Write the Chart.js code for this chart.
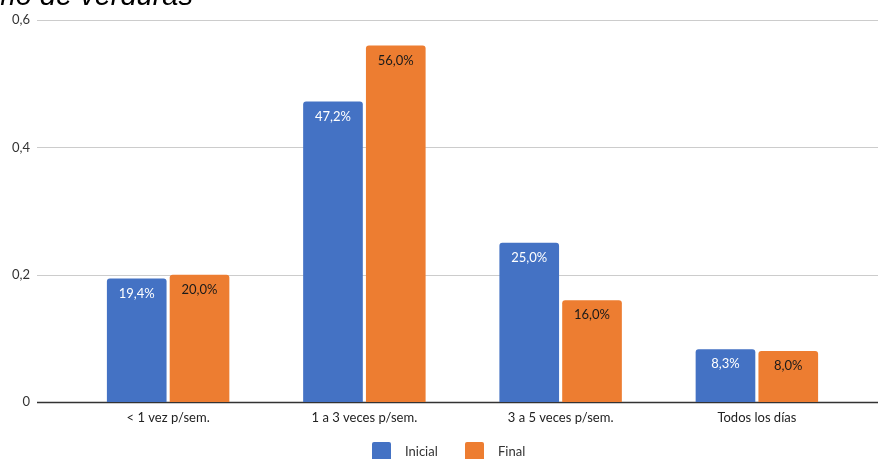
<!DOCTYPE html>
<html>
<head>
<meta charset="utf-8">
<script src="https://cdn.jsdelivr.net/npm/chart.js@4/dist/chart.umd.min.js"></script>
<style>
  html, body { margin: 0; padding: 0; background: #fff; }
  #wrap { width: 878px; height: 459px; position: relative; }
</style>
</head>
<body>
<div id="wrap"><canvas id="c"></canvas></div>
<script>
// Frecuencia de consumo de verduras, antes y después
const categories = ['< 1 vez p/sem.', '1 a 3 veces p/sem.', '3 a 5 veces p/sem.', 'Todos los días'];
const inicial = [0.194, 0.472, 0.25, 0.083];
const final = [0.20, 0.56, 0.16, 0.08];
const yTicks = [0, 0.2, 0.4, 0.6];
const title = 'Consumo de verduras';

const BLUE = '#4472C4';
const ORANGE = '#ED7D31';
const FONT = 'Lato, "Open Sans", sans-serif';

const fmtPct = v => (v * 100).toFixed(1).replace('.', ',') + '%';
const fmtTick = v => String(v).replace('.', ',');

// Gridlines span the full canvas width, wider than the bar area
const gridPlugin = {
  id: 'wideGrid',
  beforeDatasetsDraw(chart) {
    const ctx = chart.ctx, y = chart.scales.y;
    ctx.save();
    yTicks.forEach(t => {
      const py = Math.round(y.getPixelForValue(t)) + 0.5;
      ctx.beginPath();
      ctx.lineWidth = t === 0 ? 1.5 : 1.2;
      ctx.strokeStyle = t === 0 ? '#333333' : '#cccccc';
      ctx.moveTo(37, py);
      ctx.lineTo(chart.width, py);
      ctx.stroke();
    });
    ctx.restore();
  }
};

// Percentage labels inside the top of each bar
const valueLabels = {
  id: 'valueLabels',
  afterDatasetsDraw(chart) {
    const ctx = chart.ctx;
    ctx.save();
    ctx.font = '13px ' + FONT;
    ctx.textAlign = 'center';
    ctx.textBaseline = 'middle';
    chart.data.datasets.forEach((ds, i) => {
      chart.getDatasetMeta(i).data.forEach((bar, j) => {
        ctx.fillStyle = i === 0 ? '#ffffff' : '#1a1a1a';
        ctx.fillText(fmtPct(ds.data[j]), bar.x, bar.y + 15);
      });
    });
    ctx.restore();
  }
};

// Title and legend drawn directly on the canvas
const decor = {
  id: 'decor',
  afterDraw(chart) {
    const ctx = chart.ctx;
    ctx.save();
    ctx.font = 'italic 29px "Liberation Sans", Arial, sans-serif';
    ctx.fillStyle = '#000';
    ctx.textAlign = 'right';
    ctx.textBaseline = 'alphabetic';
    ctx.fillText(title, 193, 5);

    const items = [
      { label: chart.data.datasets[0].label, color: BLUE, x: 372 },
      { label: chart.data.datasets[1].label, color: ORANGE, x: 465 }
    ];
    ctx.font = '13px ' + FONT;
    ctx.textAlign = 'left';
    ctx.textBaseline = 'middle';
    items.forEach(it => {
      ctx.fillStyle = it.color;
      ctx.beginPath();
      ctx.roundRect(it.x, 442, 19, 19, 2);
      ctx.fill();
      ctx.fillStyle = '#333';
      ctx.fillText(it.label, it.x + 33, 452);
    });
    ctx.restore();
  }
};

new Chart(document.getElementById('c'), {
  type: 'bar',
  data: {
    labels: categories,
    datasets: [
      { label: 'Inicial', data: inicial, backgroundColor: BLUE, borderRadius: { topLeft: 3, topRight: 3 }, borderSkipped: 'bottom' },
      { label: 'Final', data: final, backgroundColor: ORANGE, borderRadius: { topLeft: 3, topRight: 3 }, borderSkipped: 'bottom' }
    ]
  },
  options: {
    responsive: true,
    maintainAspectRatio: false,
    animation: false,
    layout: { padding: { top: 20, right: 23, left: 0, bottom: 0 } },
    datasets: { bar: { categoryPercentage: 0.64, barPercentage: 0.95 } },
    plugins: { legend: { display: false }, title: { display: false }, tooltip: { enabled: false } },
    scales: {
      x: {
        grid: { display: false, drawTicks: false },
        border: { display: false },
        ticks: { color: '#222', font: { family: FONT, size: 13 }, padding: 8, maxRotation: 0 },
        afterFit(s) { s.height = 57; s.paddingLeft = 0; s.paddingRight = 0; }
      },
      y: {
        min: 0, max: 0.6,
        afterBuildTicks(s) { s.ticks = yTicks.map(v => ({ value: v })); },
        grid: { display: false, drawTicks: false },
        border: { display: false },
        ticks: { color: '#333', font: { family: FONT, size: 13 }, padding: 40, callback: v => fmtTick(v) },
        afterFit(s) { s.width = 70; s.paddingTop = 0; s.paddingBottom = 0; }
      }
    }
  },
  plugins: [gridPlugin, valueLabels, decor]
});
</script>
</body>
</html>
